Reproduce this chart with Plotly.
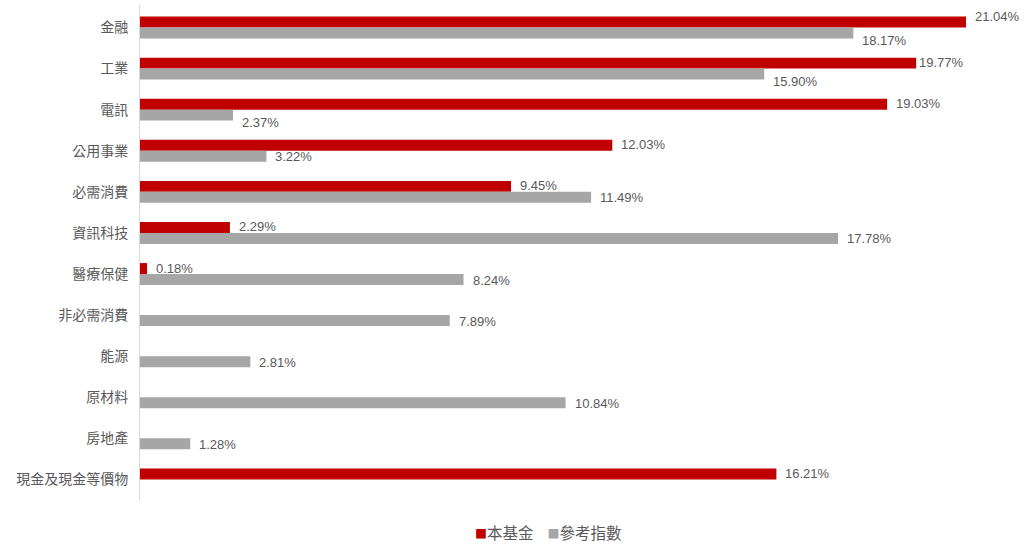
import plotly.graph_objects as go

categories = ["金融", "工業", "電訊", "公用事業", "必需消費", "資訊科技", "醫療保健",
              "非必需消費", "能源", "原材料", "房地產", "現金及現金等價物"]
fund = [21.04, 19.77, 19.03, 12.03, 9.45, 2.29, 0.18, None, None, None, None, 16.21]
index = [18.17, 15.90, 2.37, 3.22, 11.49, 17.78, 8.24, 7.89, 2.81, 10.84, 1.28, None]
series_names = ["本基金", "參考指數"]
series_colors = ["#C00000", "#A6A6A6"]

font_fam = "Liberation Sans, Arial, Noto Sans CJK TC, sans-serif"
cjk_fam = "Noto Sans CJK TC, Liberation Sans, sans-serif"

fig = go.Figure()
for name, vals, color in zip(series_names, (fund, index), series_colors):
    fig.add_trace(go.Bar(
        y=categories, x=vals, name=name, orientation="h",
        marker=dict(color=color, line=dict(width=0)), showlegend=False,
    ))

# label nudges (style only): default offsets per series, a few labels moved as in the reference
label_style = {
    "fund": dict(yshift=6, xshift=7),
    "index": dict(yshift=-6, xshift=7),
}
nudges = {("fund", 0): dict(yshift=11), ("index", 0): dict(yshift=-13),
          ("fund", 1): dict(xshift=1), ("index", 1): dict(yshift=-13),
          ("index", 2): dict(yshift=-13)}

annotations = []
for key, vals in (("fund", fund), ("index", index)):
    for i, (cat, v) in enumerate(zip(categories, vals)):
        if v is None:
            continue
        st = dict(label_style[key])
        st.update(nudges.get((key, i), {}))
        annotations.append(dict(
            x=v, y=cat, xref="x", yref="y", text=f"{v:.2f}%", showarrow=False,
            xanchor="left", yanchor="middle", xshift=st["xshift"], yshift=st["yshift"],
            font=dict(size=13, color="#595959", family=font_fam),
        ))

# legend drawn as text with coloured squares, like the reference
legend_text = "&nbsp;&nbsp;&nbsp;&nbsp;".join(
    f"<span style='font-size:12px;color:{c}'>■</span>{n}"
    for n, c in zip(series_names, series_colors)
)
annotations.append(dict(
    x=0.469, y=-0.065, xref="paper", yref="paper", text=legend_text,
    showarrow=False, xanchor="center", yanchor="middle",
    font=dict(size=15.5, color="#595959", family=cjk_fam),
))

fig.update_layout(
    width=1024, height=544,
    barmode="group", bargap=0.467, bargroupgap=0,
    plot_bgcolor="white", paper_bgcolor="white",
    margin=dict(l=140, r=14, t=5, b=44, autoexpand=False),
    font=dict(family=cjk_fam, color="#595959", size=14),
    xaxis=dict(range=[0, 22.16], visible=False, showgrid=False, zeroline=False),
    yaxis=dict(autorange="reversed", showline=True, linecolor="#D9D9D9", linewidth=1,
               ticks="", showgrid=False, automargin=False,
               tickfont=dict(size=14, color="#595959", family=cjk_fam),
               ticklabelstandoff=8),
    annotations=annotations,
    showlegend=False,
)

fig.write_html("out.html", config={"displayModeBar": False},
               post_script="document.body.style.margin='0';")
